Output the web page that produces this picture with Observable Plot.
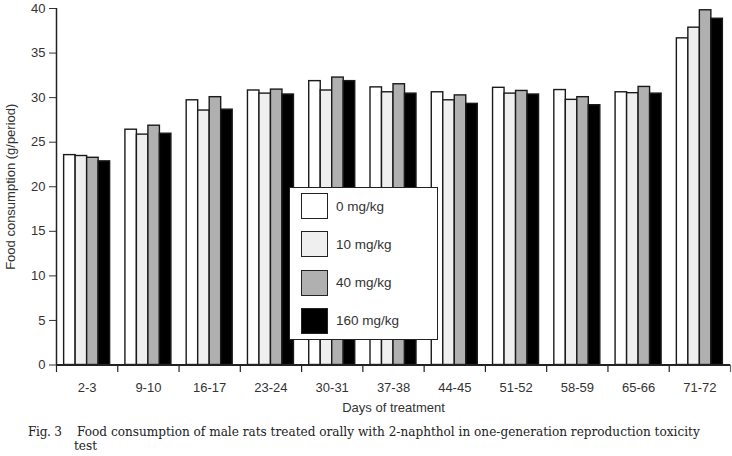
<!DOCTYPE html>
<html>
<head>
<meta charset="utf-8">
<script src="https://cdn.jsdelivr.net/npm/d3@7"></script>
<script src="https://cdn.jsdelivr.net/npm/@observablehq/plot@0.6"></script>
<style>
  body { margin: 0; background: #fff; }
  #wrap { position: relative; width: 732px; height: 456px; overflow: hidden; }
  #legend { position: absolute; left: 289px; top: 187px; width: 147px; height: 151px;
            border: 1.5px solid #222; background: #fff; font-family: "Liberation Sans", Arial, sans-serif;
            font-size: 13.5px; color: #333; }
  .item { position: absolute; left: 11px; display: flex; align-items: center; }
  .sw { width: 25px; height: 24px; border: 1.5px solid #222; margin-right: 8px; }
  .cap { position: absolute; top: 424.5px; color: #222; white-space: nowrap;
         font-family: "DejaVu Serif", "Liberation Serif", serif; font-size: 12.1px; line-height: 14.5px; }
  #capfig { left: 28px; letter-spacing: -0.3px; }
  #captext { left: 77px; }
  #captext .l2 { margin-left: -3px; }
</style>
</head>
<body>
<div id="wrap"></div>
<script>
const days = ["2-3","9-10","16-17","23-24","30-31","37-38","44-45","51-52","58-59","65-66","71-72"];
const doses = ["0 mg/kg","10 mg/kg","40 mg/kg","160 mg/kg"];
const fills = ["#ffffff","#efefef","#b0b0b0","#000000"];
const dose0   = [23.55, 26.4, 29.7, 30.8, 31.85, 31.15, 30.6, 31.1, 30.85, 30.6, 36.65];
const dose10  = [23.45, 25.85, 28.55, 30.45, 30.8, 30.6, 29.7, 30.45, 29.75, 30.5, 37.85];
const dose40  = [23.25, 26.85, 30.05, 30.9, 32.25, 31.5, 30.25, 30.75, 30.05, 31.2, 39.8];
const dose160 = [22.85, 25.95, 28.65, 30.35, 31.85, 30.45, 29.3, 30.35, 29.15, 30.45, 38.85];
const series = [dose0, dose10, dose40, dose160];
const yTicks = [0, 5, 10, 15, 20, 25, 30, 35, 40];

const W = 732, ML = 56, MR = 2;
const bw = (W - ML - MR) / days.length;
const po = 0.664;
const b = bw / (doses.length + 2 * po);
const pad = po * b;

const bars = series.map((vals, j) => Plot.barY(days, {
  x: d => d,
  y: (d, i) => vals[i],
  fill: fills[j],
  stroke: "#1a1a1a",
  strokeWidth: 1.4,
  insetLeft: pad + j * b,
  insetRight: pad + (doses.length - 1 - j) * b
}));

const chart = Plot.plot({
  width: W, height: 418,
  marginLeft: ML, marginRight: MR, marginTop: 8, marginBottom: 53.5,
  style: { fontFamily: "'Liberation Sans', Arial, sans-serif", fontSize: "13px", color: "#333", background: "white", overflow: "visible" },
  x: { domain: days, padding: 0, round: false, tickSize: 0, tickPadding: 18,
       label: "Days of treatment", labelAnchor: "center", labelOffset: 47, labelArrow: "none" },
  y: { domain: [0, 40], ticks: yTicks, tickSize: 7, tickPadding: 4,
       label: "Food consumption (g/period)", labelAnchor: "center", labelOffset: 51, labelArrow: "none" },
  marks: [
    ...bars,
    Plot.ruleY([0], { stroke: "#222", strokeWidth: 2 }),
    Plot.ruleX([days[0]], { x: d => d, y1: 0, y2: 40, dx: -bw / 2, stroke: "#222", strokeWidth: 1.5 }),
    Plot.ruleX(days, { x: d => d, y1: 0, y2: -0.85, dx: -bw / 2, stroke: "#222", strokeWidth: 1.2 }),
    Plot.ruleX([days[days.length - 1]], { x: d => d, y1: 0, y2: -0.85, dx: bw / 2, stroke: "#666", strokeWidth: 1.2 })
  ]
});

// strip any automatic arrow from axis labels (older 0.6 builds ignore labelArrow)
chart.querySelectorAll("text").forEach(t => {
  if (/[↑→↓←]/.test(t.textContent)) t.textContent = t.textContent.replace(/\s*[↑→↓←]\s*/g, "");
});

const wrap = document.getElementById("wrap");
wrap.appendChild(chart);

const legend = document.createElement("div");
legend.id = "legend";
doses.forEach((name, j) => {
  const it = document.createElement("div");
  it.className = "item";
  it.style.top = (5 + j * 38.3) + "px";
  const sw = document.createElement("div");
  sw.className = "sw";
  sw.style.background = fills[j];
  const t = document.createElement("span");
  t.textContent = name;
  it.appendChild(sw); it.appendChild(t);
  legend.appendChild(it);
});
wrap.appendChild(legend);

const capFig = document.createElement("div");
capFig.className = "cap"; capFig.id = "capfig";
capFig.textContent = "Fig. 3";
wrap.appendChild(capFig);
const capText = document.createElement("div");
capText.className = "cap"; capText.id = "captext";
capText.innerHTML = '<div>Food consumption of male rats treated orally with 2-naphthol in one-generation reproduction toxicity</div><div class="l2">test</div>';
wrap.appendChild(capText);
</script>
</body>
</html>
